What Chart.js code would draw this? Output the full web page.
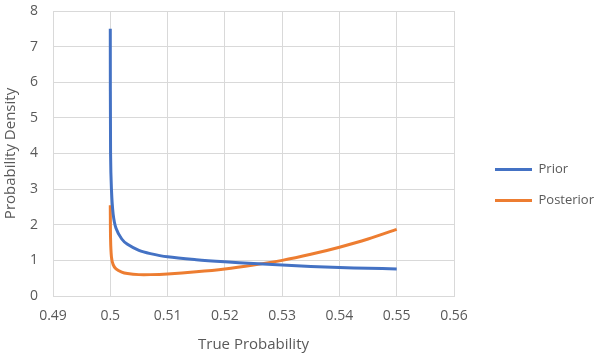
<!DOCTYPE html>
<html>
<head>
<meta charset="utf-8">
<script src="https://cdn.jsdelivr.net/npm/chart.js@4"></script>
<style>
  html, body { margin: 0; padding: 0; background: #fff; }
  #wrap { width: 600px; height: 359px; }
</style>
</head>
<body>
<div id="wrap"><canvas id="chart"></canvas></div>
<script>
// values
const priorX = [0.5, 0.50005, 0.5002, 0.5005, 0.501, 0.502, 0.503, 0.505, 0.507, 0.51, 0.515, 0.52, 0.525, 0.53, 0.535, 0.54, 0.545, 0.55];
const priorY = [7.5, 4.0, 3.0, 2.3, 1.9, 1.6, 1.45, 1.28, 1.19, 1.1, 1.02, 0.96, 0.91, 0.87, 0.83, 0.8, 0.78, 0.76];
const posteriorX = [0.5, 0.50005, 0.5002, 0.5005, 0.501, 0.502, 0.503, 0.505, 0.507, 0.51, 0.515, 0.52, 0.525, 0.53, 0.535, 0.54, 0.545, 0.55];
const posteriorY = [2.55, 1.6, 1.1, 0.88, 0.76, 0.67, 0.63, 0.6, 0.6, 0.62, 0.68, 0.76, 0.87, 1.0, 1.17, 1.37, 1.6, 1.87];
const seriesNames = ["Prior", "Posterior"];

const toPoints = (xs, ys) => xs.map((x, i) => ({ x: x, y: ys[i] }));

const font = "'Open Sans', 'Noto Sans', sans-serif";
const gridColor = "#D9D9D9";
const textColor = "#595959";

// fix the legend column width and push its items away from the plot
const legendShift = {
  id: "legendShift",
  beforeUpdate(chart) {
    const lg = chart.legend;
    if (lg && !lg._wrapped) {
      const fit = lg.fit.bind(lg);
      lg.fit = function () {
        fit();
        this.width = 146;
      };
      lg._wrapped = true;
    }
  },
  afterLayout(chart) {
    chart.legend.left = 477;
  },
};

new Chart(document.getElementById("chart"), {
  type: "scatter",
  data: {
    datasets: [
      {
        label: seriesNames[0],
        data: toPoints(priorX, priorY),
        showLine: true,
        borderColor: "#4472C4",
        backgroundColor: "#4472C4",
        borderWidth: 3,
        pointRadius: 0,
        tension: 0.3,
      },
      {
        label: seriesNames[1],
        data: toPoints(posteriorX, posteriorY),
        showLine: true,
        borderColor: "#ED7D31",
        backgroundColor: "#ED7D31",
        borderWidth: 3,
        pointRadius: 0,
        tension: 0.3,
      },
    ],
  },
  options: {
    responsive: true,
    maintainAspectRatio: false,
    animation: false,
    layout: { padding: { top: 11, right: 0, left: 0, bottom: 0 } },
    plugins: {
      tooltip: { enabled: false },
      legend: {
        position: "right",
        labels: {
          usePointStyle: true,
          pointStyle: "line",
          pointStyleWidth: 37,
          padding: 18,
          color: textColor,
          font: { family: font, size: 13 },
        },
      },
    },
    scales: {
      x: {
        type: "linear",
        min: 0.49,
        max: 0.56,
        afterFit(scale) {
          scale.height = 63;
          scale.paddingLeft = 0;
          scale.paddingRight = 0;
        },
        ticks: {
          stepSize: 0.01,
          maxRotation: 0,
          color: textColor,
          font: { family: font, size: 14 },
          padding: 12,
          callback: (v) => Number(v.toFixed(2)).toString(),
        },
        grid: { color: gridColor, lineWidth: 1, drawTicks: false },
        border: { color: gridColor },
        title: {
          display: true,
          text: "True Probability",
          color: textColor,
          font: { family: font, size: 15 },
          padding: { top: 8, bottom: 5 },
        },
      },
      y: {
        min: 0,
        max: 8,
        afterFit(scale) {
          scale.width = 53;
          scale.paddingTop = 0;
          scale.paddingBottom = 0;
        },
        ticks: {
          stepSize: 1,
          color: textColor,
          font: { family: font, size: 14 },
          padding: 15,
        },
        grid: { color: gridColor, lineWidth: 1, drawTicks: false },
        border: { color: gridColor },
        title: {
          display: true,
          text: "Probability Density",
          color: textColor,
          font: { family: font, size: 15 },
          padding: { top: 2, bottom: 8 },
        },
      },
    },
  },
  plugins: [legendShift],
});
</script>
</body>
</html>
